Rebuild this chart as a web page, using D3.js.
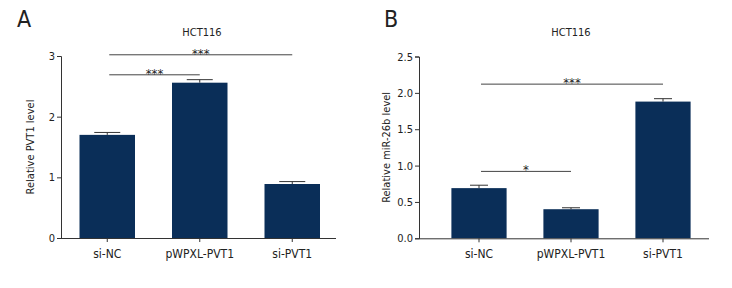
<!DOCTYPE html>
<html>
<head>
<meta charset="utf-8">
<script src="https://cdn.jsdelivr.net/npm/d3@7"></script>
<style>
  body { margin: 0; background: #fff; }
  svg text { font-family: "Liberation Sans Narrow", "DejaVu Sans Condensed", sans-serif; fill: #222; }
</style>
</head>
<body>
<div id="chart"></div>
<script>
// Data
const groups = ["si-NC", "pWPXL-PVT1", "si-PVT1"];

const pvt1Mean = [1.70, 2.56, 0.89];
const pvt1Err = [0.04, 0.05, 0.04];
const pvt1Ticks = [0, 1, 2, 3];
const pvt1Sig = [
    { from: "si-NC", to: "si-PVT1", y: 3.02, label: "***" },
    { from: "si-NC", to: "pWPXL-PVT1", y: 2.69, label: "***" }
];

const mirMean = [0.69, 0.40, 1.88];
const mirErr = [0.04, 0.02, 0.04];
const mirTicks = [0, 0.5, 1.0, 1.5, 2.0, 2.5];
const mirSig = [
    { from: "si-NC", to: "si-PVT1", y: 2.12, label: "***" },
    { from: "si-NC", to: "pWPXL-PVT1", y: 0.92, label: "*" }
];

const barColor = "#0a2e58";

const svg = d3.select("#chart")
    .append("svg")
    .attr("width", 732)
    .attr("height", 288);

function drawPanel(opt) {
    const g = svg.append("g");

    // y scale
    const y = d3.scaleLinear()
        .domain([0, opt.yMax])
        .range([opt.bottom, opt.top]);

    // band scale for bars
    const x = d3.scaleBand()
        .domain(groups)
        .range([opt.bandLeft, opt.bandRight])
        .paddingInner(0.4)
        .paddingOuter(0.2);

    // panel letter
    g.append("text")
        .attr("x", opt.letterX)
        .attr("y", 27)
        .style("font-size", "23px")
        .text(opt.letter);

    // title
    g.append("text")
        .attr("x", opt.titleX)
        .attr("y", 36)
        .attr("text-anchor", "middle")
        .style("font-size", "11px")
        .text("HCT116");

    // bars
    g.selectAll(".bar")
        .data(groups)
        .enter()
        .append("rect")
        .attr("x", d => x(d))
        .attr("width", x.bandwidth())
        .attr("y", (d, i) => y(opt.mean[i]))
        .attr("height", (d, i) => y(0) - y(opt.mean[i]))
        .attr("fill", barColor);

    // error bars (upper only)
    groups.forEach((d, i) => {
        const cx = x(d) + x.bandwidth() / 2;
        g.append("line")
            .attr("x1", cx).attr("x2", cx)
            .attr("y1", y(opt.mean[i])).attr("y2", y(opt.mean[i] + opt.err[i]))
            .attr("stroke", "#333").attr("stroke-width", 1);
        g.append("line")
            .attr("x1", cx - opt.cap).attr("x2", cx + opt.cap)
            .attr("y1", y(opt.mean[i] + opt.err[i])).attr("y2", y(opt.mean[i] + opt.err[i]))
            .attr("stroke", "#333").attr("stroke-width", 1);
    });

    // y axis
    const yAxis = g.append("g")
        .attr("transform", `translate(${opt.axisX},0)`)
        .call(d3.axisLeft(y).tickValues(opt.ticks).tickSize(4).tickPadding(2).tickFormat(opt.fmt));
    yAxis.select(".domain").attr("stroke", "#333");
    yAxis.selectAll(".tick line").attr("stroke", "#333");
    yAxis.selectAll(".tick text").style("font-size", "11px").attr("font-family", null);

    // x axis
    const xAxis = g.append("g")
        .attr("transform", `translate(0,${opt.bottom})`)
        .call(d3.axisBottom(x).tickSize(4).tickSizeOuter(0));
    xAxis.select(".domain").remove();
    xAxis.selectAll(".tick line").attr("stroke", "#333");
    xAxis.selectAll(".tick text").style("font-size", "12px").attr("dy", "1.1em").attr("font-family", null);
    g.append("line")
        .attr("x1", opt.axisX).attr("x2", opt.axisRight)
        .attr("y1", opt.bottom + 0.5).attr("y2", opt.bottom + 0.5)
        .attr("stroke", "#333");

    // y label
    g.append("text")
        .attr("transform", `translate(${opt.labelX},${(opt.top + opt.bottom) / 2}) rotate(-90)`)
        .attr("text-anchor", "middle")
        .style("font-size", "11px")
        .text(opt.yLabel);

    // significance brackets
    opt.sig.forEach(s => {
        const x1 = x(s.from) + x.bandwidth() / 2 + 2;
        const x2 = x(s.to) + x.bandwidth() / 2;
        g.append("line")
            .attr("x1", x1).attr("x2", x2)
            .attr("y1", y(s.y)).attr("y2", y(s.y))
            .attr("stroke", "#444").attr("stroke-width", 1);
        g.append("text")
            .attr("x", (x1 + x2) / 2)
            .attr("y", y(s.y) + 3)
            .attr("text-anchor", "middle")
            .style("font-size", "13px")
            .text(s.label);
    });
}

drawPanel({
    letter: "A", letterX: 17, titleX: 202,
    mean: pvt1Mean, err: pvt1Err, ticks: pvt1Ticks, sig: pvt1Sig,
    yMax: 3, top: 56, bottom: 238,
    axisX: 61, axisRight: 336, bandLeft: 61, bandRight: 338.5,
    cap: 13, labelX: 34, fmt: d3.format("d"),
    yLabel: "Relative PVT1 level"
});

drawPanel({
    letter: "B", letterX: 384, titleX: 571,
    mean: mirMean, err: mirErr, ticks: mirTicks, sig: mirSig,
    yMax: 2.5, top: 56.5, bottom: 238.3,
    axisX: 419, axisRight: 709, bandLeft: 433, bandRight: 709,
    cap: 9, labelX: 390, fmt: d3.format(".1f"),
    yLabel: "Relative miR-26b level"
});
</script>
</body>
</html>
